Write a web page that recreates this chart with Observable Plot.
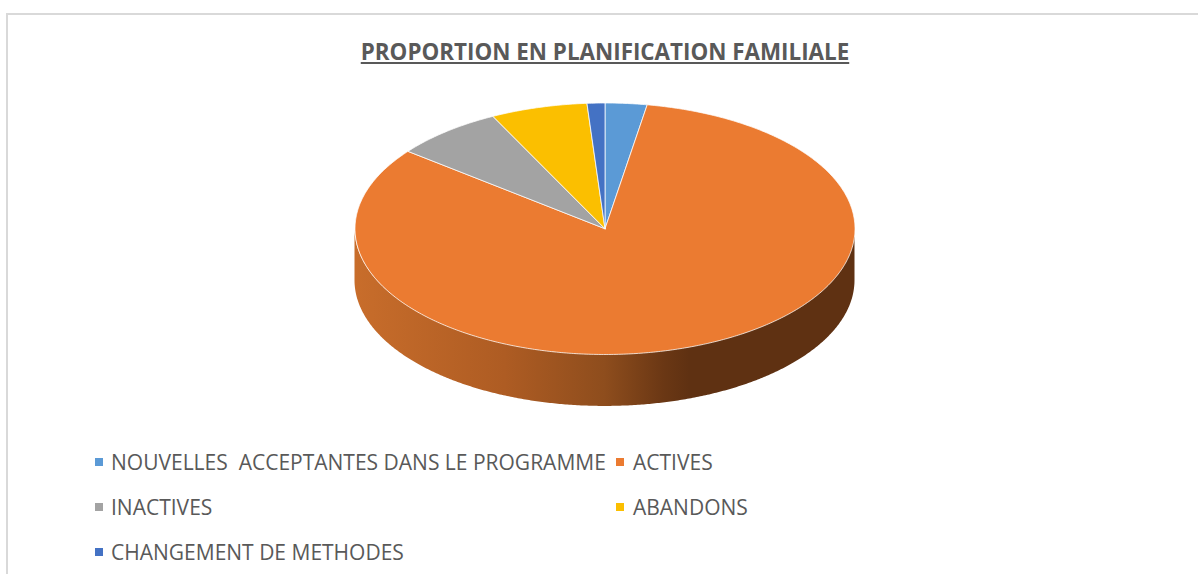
<!DOCTYPE html>
<html lang="fr">
<head>
<meta charset="utf-8">
<script src="https://cdn.jsdelivr.net/npm/d3@7"></script>
<script src="https://cdn.jsdelivr.net/npm/@observablehq/plot@0.6"></script>
<style>
  html, body { margin: 0; padding: 0; background: #fff; }
  #page { position: relative; width: 1198px; height: 574px; overflow: hidden; font-family: "Open Sans", sans-serif; color: #595959; }
  #frame { position: absolute; left: 6px; top: 13px; width: 1192px; height: 561px; box-sizing: border-box; border-left: 2px solid #d9d9d9; border-top: 2px solid #d9d9d9; }
  #title { position: absolute; left: 0; width: 1210px; top: 37px; text-align: center; font-size: 22.4px; line-height: 30px; font-weight: 700; text-decoration: underline; white-space: nowrap; }
  #chart { position: absolute; left: 0; top: 80px; }
  #chart svg { display: block; }
  .item { position: absolute; font-size: 21px; line-height: 28px; white-space: pre; }
  .swatch { position: absolute; width: 8px; height: 8px; }
</style>
</head>
<body>
<div id="page">
  <div id="frame"></div>
  <div id="title"></div>
  <div id="chart"></div>
  <div id="legend"></div>
</div>
<script>
const chartTitle = "PROPORTION EN PLANIFICATION FAMILIALE";
const categories = ["NOUVELLES  ACCEPTANTES DANS LE PROGRAMME", "ACTIVES", "INACTIVES", "ABANDONS", "CHANGEMENT DE METHODES"];
const shares = [2.7, 82.85, 7.05, 6.25, 1.15];
const colors = ["#5B9AD6", "#EB7B31", "#A3A3A3", "#FBBF00", "#4472C4"];
const sideStops = [[0, "#C86D2B"], [0.3, "#AE5C23"], [0.5, "#8E4D1D"], [0.62, "#6A3714"], [0.67, "#5F3112"], [1, "#5F3112"]];
const depth = 0.413;

document.getElementById("title").textContent = chartTitle;

const total = d3.sum(shares);
const TAU = 2 * Math.PI;
let acc = 0;
const slices = [];
categories.forEach((name, i) => {
  const a0 = acc / total * TAU;
  acc += shares[i];
  const a1 = acc / total * TAU;
  const n = Math.max(2, Math.ceil((a1 - a0) / 0.01));
  slices.push({ name, x: 0, y: 0 });
  for (let k = 0; k <= n; k++) {
    const a = a0 + (a1 - a0) * k / n;
    slices.push({ name, x: Math.sin(a), y: Math.cos(a) });
  }
  slices.push({ name, x: 0, y: 0 });
});

// Front wall of the disc: from the right edge round the front to the left edge.
const wall = d3.range(0, 401).map(k => {
  const a = Math.PI * k / 400;
  return { x: Math.cos(a), top: -Math.sin(a), bottom: -Math.sin(a) - depth };
});

const svgNS = "http://www.w3.org/2000/svg";
function gradientDefs() {
  const defs = document.createElementNS(svgNS, "defs");
  const g = document.createElementNS(svgNS, "linearGradient");
  g.setAttribute("id", "side");
  g.setAttribute("x1", "0"); g.setAttribute("x2", "1"); g.setAttribute("y1", "0"); g.setAttribute("y2", "0");
  sideStops.forEach(([o, c]) => {
    const s = document.createElementNS(svgNS, "stop");
    s.setAttribute("offset", o); s.setAttribute("stop-color", c);
    g.appendChild(s);
  });
  defs.appendChild(g);
  return defs;
}

const chart = Plot.plot({
  width: 1198,
  height: 340,
  margin: 0,
  x: { domain: [-1, 1], range: [354.5, 854.5], axis: null },
  y: { domain: [-1, 1], range: [274, 22.5], axis: null },
  color: { domain: categories, range: colors },
  marks: [
    gradientDefs,
    Plot.areaY(wall, { x: "x", y1: "top", y2: "bottom", fill: "url(#side)", curve: "linear" }),
    Plot.line(slices, { x: "x", y: "y", z: "name", fill: "name", stroke: "#fff", strokeWidth: 1, strokeOpacity: 0.75, strokeLinejoin: "round", curve: "linear" })
  ]
});
document.getElementById("chart").appendChild(chart);

const rowY = [462, 507, 552];
const cols = [[95, 111], [616, 633]];
const legend = document.getElementById("legend");
categories.forEach((name, i) => {
  const row = Math.floor(i / 2), col = i % 2;
  const sw = document.createElement("div");
  sw.className = "swatch";
  sw.style.cssText = `left:${cols[col][0]}px;top:${rowY[row] - 4}px;background:${colors[i]}`;
  const t = document.createElement("div");
  t.className = "item";
  t.textContent = name;
  t.style.cssText = `left:${cols[col][1]}px;top:${rowY[row] - 14}px`;
  legend.append(sw, t);
});
</script>
</body>
</html>
